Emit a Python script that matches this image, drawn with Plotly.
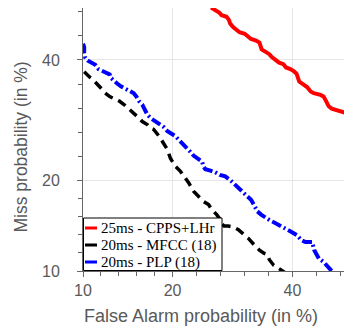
from statistics import NormalDist
import plotly.graph_objects as go

# ---- data (percent) ----
series_names = ["25ms - CPPS+LHr", "20ms - MFCC (18)", "20ms - PLP (18)"]
series_colors = ["#ff0000", "#000000", "#0000ff"]

red_fa = [25.7, 26.6, 27.0, 27.4, 28.2, 28.6, 28.8, 29.3, 29.9, 30.4, 31.3, 32.0, 32.4, 33.3, 33.9, 34.3, 35.1, 35.7, 36.1, 36.7, 37.5, 38.3, 38.8, 39.6, 40.3, 40.8, 41.3, 42.2, 42.8, 43.5, 44.1, 45.4, 46.0, 46.5, 47.0, 47.6, 48.6, 50.2]
red_miss = [50.1, 49.5, 49.1, 48.6, 48.3, 47.7, 47.0, 46.3, 45.7, 45.3, 45.0, 44.5, 44.0, 43.7, 43.3, 42.0, 41.6, 41.1, 40.6, 40.1, 39.5, 39.2, 38.6, 38.3, 37.9, 37.4, 36.0, 35.4, 35.0, 34.2, 33.9, 33.6, 33.3, 32.5, 31.6, 31.2, 31.0, 30.5]

black_fa = [10.1, 10.3, 10.6, 10.9, 11.4, 11.7, 12.0, 12.5, 13.0, 13.5, 14.0, 14.6, 15.1, 15.7, 16.1, 16.7, 17.1, 17.5, 18.2, 18.6, 18.9, 19.3, 19.7, 20.4, 21.1, 21.8, 22.3, 23.0, 23.8, 24.5, 25.3, 25.8, 26.6, 27.1, 27.2, 27.8, 28.5, 29.3, 30.2, 31.0, 31.9, 33.0, 33.9, 34.7, 35.3, 35.7, 36.5, 37.2, 38.0, 38.5]
black_miss = [37.8, 37.3, 36.8, 36.3, 35.4, 34.7, 34.0, 33.3, 32.9, 32.5, 31.9, 31.1, 30.4, 29.6, 29.0, 28.5, 27.9, 27.7, 26.6, 25.8, 25.3, 24.5, 23.2, 22.0, 21.3, 20.4, 19.7, 18.6, 17.9, 17.3, 16.9, 16.3, 15.7, 15.2, 14.8, 14.4, 14.4, 14.3, 14.0, 13.6, 13.1, 12.4, 11.9, 11.6, 11.5, 11.0, 10.5, 10.3, 10.1, 9.9]

blue_fa = [10.0, 10.1, 10.1, 10.2, 10.4, 10.7, 11.1, 11.4, 11.8, 12.2, 12.5, 12.6, 13.0, 13.3, 13.7, 14.2, 14.8, 15.1, 15.4, 15.7, 16.1, 16.3, 16.5, 16.7, 17.1, 17.7, 18.2, 18.8, 19.3, 19.9, 20.4, 20.8, 21.5, 22.1, 22.5, 23.0, 23.8, 24.3, 24.5, 24.8, 25.6, 26.3, 27.1, 28.0, 28.8, 29.3, 30.2, 31.0, 31.9, 32.4, 32.9, 33.5, 34.2, 35.1, 35.9, 36.6, 37.2, 38.1, 39.1, 40.0, 40.9, 41.7, 42.5, 43.8, 44.2, 44.6, 45.1, 46.0, 46.7, 47.4, 47.8]
blue_miss = [43.1, 42.5, 41.3, 40.4, 39.9, 39.5, 39.1, 38.3, 37.9, 37.7, 37.3, 36.7, 36.0, 35.6, 35.1, 34.7, 34.2, 33.9, 33.3, 32.5, 31.9, 31.3, 30.7, 30.2, 29.6, 29.0, 28.5, 28.1, 27.4, 27.0, 26.6, 26.1, 25.3, 24.8, 24.2, 23.6, 23.1, 22.7, 22.0, 21.6, 21.4, 21.2, 20.8, 20.6, 20.1, 19.7, 19.0, 18.4, 17.9, 17.5, 16.9, 16.1, 15.7, 15.3, 15.0, 14.8, 14.6, 14.3, 14.1, 13.7, 13.4, 12.9, 12.7, 12.7, 11.9, 11.5, 11.1, 10.8, 10.4, 10.1, 9.9]

tick_pcts = [10, 20, 40]
axis_range_pct = [10, 50]
x_title = "False Alarm probability (in %)"
y_title = "Miss probability (in %)"

# ---- normal-deviate (probit) scale used by DET plots ----
N = NormalDist()
def probit(p):
    return N.inv_cdf(p / 100.0)

def pz(vals):
    return [probit(v) for v in vals]

major = [probit(p) for p in tick_pcts]
minor = []
for a, b in zip(major[:-1], major[1:]):
    minor += [a + (b - a) * k / 5 for k in range(1, 5)]
step = (major[-1] - major[-2]) / 5
m = major[-1] + step
while m < probit(axis_range_pct[1]):
    minor.append(m)
    m += step
rng = [probit(axis_range_pct[0]), probit(axis_range_pct[1])]

fig = go.Figure()
fig.add_trace(go.Scatter(x=pz(red_fa), y=pz(red_miss), mode="lines", name=series_names[0],
                         line=dict(color=series_colors[0], width=4)))
fig.add_trace(go.Scatter(x=pz(black_fa), y=pz(black_miss), mode="lines", name=series_names[1],
                         line=dict(color=series_colors[1], width=3.5, dash="9px,6px")))
fig.add_trace(go.Scatter(x=pz(blue_fa), y=pz(blue_miss), mode="lines", name=series_names[2],
                         line=dict(color=series_colors[2], width=4, dash="10px,3px,2px,3px")))

axis_common = dict(
    range=rng, tickmode="array", tickvals=major, ticktext=[str(t) for t in tick_pcts],
    showgrid=True, gridcolor="#e6e6e6", gridwidth=1, zeroline=False,
    showline=True, linecolor="#666666", linewidth=1,
    ticks="outside", ticklen=5, tickcolor="#666666", tickwidth=1,
    tickfont=dict(family="Liberation Sans, Arial", size=16, color="#595959"),
    minor=dict(tickmode="array", tickvals=minor, ticks="outside", ticklen=4,
               tickcolor="#666666", tickwidth=1, showgrid=False),
)
fig.update_xaxes(**axis_common)
fig.update_yaxes(**axis_common, ticklabelstandoff=14)

L, T, B, R = 83, 8, 271, 344
W, H = R - L, B - T
def px_x(x): return (x - L) / W
def px_y(y): return (B - y) / H

# axis titles (placed as in the MATLAB figure)
fig.add_annotation(xref="paper", yref="paper", x=px_x(200.5), y=px_y(304), text=x_title,
                   showarrow=False, xanchor="center", yanchor="top",
                   font=dict(family="Liberation Sans, Arial", size=18, color="#595959"))
fig.add_annotation(xref="paper", yref="paper", x=px_x(20), y=px_y(147.5), text=y_title,
                   showarrow=False, xanchor="center", yanchor="middle", textangle=-90,
                   font=dict(family="Liberation Sans, Arial", size=17.5, color="#595959"))

# ---- legend box (MATLAB style) ----
fig.add_shape(type="rect", xref="paper", yref="paper", x0=px_x(83.5), x1=px_x(222), y0=px_y(270.5), y1=px_y(218),
              line=dict(color="#000000", width=1), fillcolor="#ffffff", layer="above")
for i, yy in enumerate([228, 245, 262]):
    fig.add_shape(type="line", xref="paper", yref="paper", x0=px_x(85), x1=px_x(97), y0=px_y(yy), y1=px_y(yy),
                  line=dict(color=series_colors[i], width=3), layer="above")
    fig.add_annotation(xref="paper", yref="paper", x=px_x(98.5), y=px_y(yy), text=series_names[i],
                       showarrow=False, xanchor="left", yanchor="middle",
                       font=dict(family="Liberation Serif, serif", size=15, color="#000000"))

fig.update_layout(
    width=344, height=326, margin=dict(l=L, r=344 - R, t=T, b=326 - B),
    paper_bgcolor="#ffffff", plot_bgcolor="#ffffff", showlegend=False,
)
fig.write_html("out.html")
